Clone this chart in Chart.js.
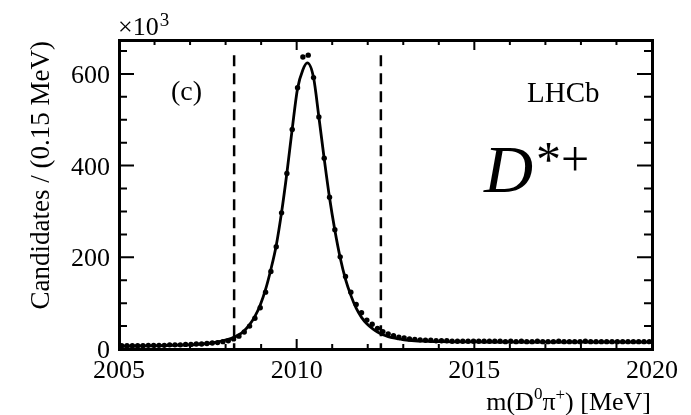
<!DOCTYPE html>
<html>
<head>
<meta charset="utf-8">
<title>m(D0 pi+) - D*+</title>
<script src="https://cdn.jsdelivr.net/npm/chart.js@4.4.1/dist/chart.umd.min.js"></script>
<style>
  html, body { margin: 0; padding: 0; background: #fff; }
  #grafico { display: block; }
</style>
</head>
<body>
<div style="width:691px;height:415px"><canvas id="grafico" width="691" height="415"></canvas></div>
<script>
// grafico estilo ROOT/LHCb: pontos (dados), curva do ajuste e as duas linhas tracejadas dos cortes
// valores em 10^3 candidatos por bin de 0.15 MeV, lidos "no olho" da figura

const binInicio = 2005
const binLargura = 0.15

// 100 bins de 2005 a 2020
const candidatos = [
  7, 7, 7, 7, 7, 8, 8, 8, 8, 9,
  9, 9, 10, 10, 11, 11, 12, 13, 14, 16,
  18, 22, 28, 37, 50, 67, 90, 124, 169, 223,
  297, 383, 479, 570, 637, 641, 592, 506, 416, 331,
  260, 201, 158, 124, 97, 79, 63, 54, 45, 38,
  33, 29, 26, 24, 22, 21, 20, 19, 19, 18,
  18, 18, 17, 17, 17, 17, 17, 17, 17, 17,
  17, 17, 16, 17, 16, 17, 16, 16, 17, 16,
  16, 16, 17, 16, 16, 16, 16, 17, 16, 16,
  16, 16, 16, 16, 16, 16, 16, 16, 16, 16
]

// curva do ajuste
const curvaX = [2005.0, 2005.5, 2006.0, 2006.5, 2007.0, 2007.325, 2007.475, 2007.625, 2007.775, 2007.925,
  2008.075, 2008.225, 2008.375, 2008.525, 2008.675, 2008.825, 2008.975, 2009.125, 2009.275, 2009.425,
  2009.575, 2009.725, 2009.875, 2010.025, 2010.175, 2010.3, 2010.475, 2010.625, 2010.775, 2010.925,
  2011.075, 2011.225, 2011.375, 2011.525, 2011.675, 2011.825, 2011.975, 2012.125, 2012.275, 2012.425,
  2012.575, 2012.725, 2012.875, 2013.025, 2013.325, 2013.625, 2014.0, 2015.0, 2016.0, 2018.0, 2020.0]
const curvaY = [6, 6.5, 7, 8, 9, 11, 12, 13.5, 15.5, 18,
  21, 25, 31, 40, 53, 71, 96, 130, 174, 226,
  298, 384, 480, 568, 609, 624, 592, 506, 415, 330,
  259, 199, 152, 117, 89, 69, 55, 45, 37, 31,
  27, 24, 22, 20, 18, 17, 16, 15.5, 15, 15, 15]

// cortes (linhas tracejadas)
const cortes = [2008.24, 2012.37]
const corteTopo = 641

const ticksX = [2005, 2010, 2015, 2020]
const ticksY = [0, 200, 400, 600]
const menorX = 1     // tick menor a cada 1 MeV
const menorY = 50    // tick menor a cada 50

const FONTE = '"Liberation Serif", "Times New Roman", serif'

function texto(ctx, s, x, y, tam, alinhar, estilo) {
  ctx.save()
  ctx.font = (estilo ? estilo + ' ' : '') + tam + 'px ' + FONTE
  ctx.textAlign = alinhar || 'left'
  ctx.textBaseline = 'alphabetic'
  ctx.fillStyle = '#000'
  ctx.fillText(s, x, y)
  ctx.restore()
}

// desenha texto em pedaços (pra ter os sobrescritos) alinhado à direita em xFim
function textoPedacos(ctx, pedacos, xFim, y) {
  let total = 0
  pedacos.forEach(p => {
    ctx.font = p[1] + 'px ' + FONTE
    total += ctx.measureText(p[0]).width
  })
  let x = xFim - total
  pedacos.forEach(p => {
    ctx.font = p[1] + 'px ' + FONTE
    const w = ctx.measureText(p[0]).width
    texto(ctx, p[0], x, y + p[2], p[1], 'left')
    x += w
  })
}

const molduraRoot = {
  id: 'molduraRoot',
  afterDraw(chart) {
    const ctx = chart.ctx
    const a = chart.chartArea
    const sx = chart.scales.x
    const sy = chart.scales.y
    ctx.save()
    ctx.strokeStyle = '#000'
    ctx.lineCap = 'butt'

    // ticks para dentro nos 4 lados
    ctx.lineWidth = 2
    ctx.beginPath()
    for (let v = sx.min; v <= sx.max + 1e-6; v += menorX) {
      const px = sx.getPixelForValue(v)
      const maior = ticksX.includes(Math.round(v))
      const L = maior ? 10 : 5
      ctx.moveTo(px, a.bottom); ctx.lineTo(px, a.bottom - L)
      ctx.moveTo(px, a.top); ctx.lineTo(px, a.top + L)
    }
    for (let v = 0; v <= sy.max + 1e-6; v += menorY) {
      const py = sy.getPixelForValue(v)
      const maior = ticksY.includes(v)
      const L = maior ? 15 : 8
      ctx.moveTo(a.left, py); ctx.lineTo(a.left + L, py)
      ctx.moveTo(a.right, py); ctx.lineTo(a.right - L, py)
    }
    ctx.stroke()

    // moldura
    ctx.lineWidth = 3
    ctx.strokeRect(a.left + 0.5, a.top + 0.5, a.right - a.left, a.bottom - a.top)

    // rotulos dos ticks
    sy.ticks.forEach(t => {
      texto(ctx, String(t.value), a.left - 9, sy.getPixelForValue(t.value) + 9, 26, 'right')
    })
    sx.ticks.forEach(t => {
      texto(ctx, String(t.value), sx.getPixelForValue(t.value), 378, 26, 'center')
    })

    // x10^3
    texto(ctx, '×10', a.left - 1, 35, 26, 'left')
    ctx.font = '26px ' + FONTE
    const w10 = ctx.measureText('×10').width
    texto(ctx, '3', a.left + w10, 26, 19, 'left')

    // titulo do eixo y (rodado, alinhado no topo)
    ctx.save()
    ctx.translate(49, 41)
    ctx.rotate(-Math.PI / 2)
    texto(ctx, 'Candidates / (0.15 MeV)', 0, 0, 27, 'right')
    ctx.restore()

    // titulo do eixo x
    textoPedacos(ctx, [
      ['m(D', 26, 0], ['0', 17, -11], ['π', 26, 0], ['+', 17, -10], [') [MeV]', 26, 0]
    ], 651, 410)

    // legendas dentro do grafico
    texto(ctx, '(c)', 171, 100, 28, 'left')
    texto(ctx, 'LHCb', 527, 102, 29, 'left')
    texto(ctx, 'D', 484, 192, 68, 'left', 'italic')
    texto(ctx, '*+', 536, 176, 50, 'left')

    ctx.restore()
  }
}

const pontos = candidatos.map((v, i) => ({ x: binInicio + binLargura * (i + 0.5), y: v }))
const curva = curvaX.map((x, i) => ({ x: x, y: curvaY[i] }))

const ctx = document.getElementById('grafico').getContext('2d')
new Chart(ctx, {
  type: 'scatter',
  data: {
    datasets: [
      {
        label: 'ajuste',
        data: curva,
        showLine: true,
        borderColor: '#000',
        borderWidth: 2.8,
        pointRadius: 0,
        cubicInterpolationMode: 'monotone'
      },
      {
        label: 'dados',
        data: pontos,
        showLine: false,
        pointRadius: 2.7,
        pointBorderWidth: 0,
        backgroundColor: '#000'
      },
      ...cortes.map(c => ({
        label: 'corte',
        data: [{ x: c, y: corteTopo }, { x: c, y: 0 }],
        showLine: true,
        borderColor: '#000',
        borderWidth: 2.5,
        borderDash: [11, 7],
        pointRadius: 0
      }))
    ]
  },
  options: {
    responsive: false,
    animation: false,
    devicePixelRatio: 1,
    layout: { padding: { top: 40, right: 39, left: 0, bottom: 0 } },
    plugins: { legend: { display: false }, tooltip: { enabled: false } },
    scales: {
      x: {
        type: 'linear',
        min: 2005,
        max: 2020,
        grid: { display: false },
        border: { display: false },
        ticks: { display: false },
        afterBuildTicks: s => { s.ticks = ticksX.map(v => ({ value: v })) },
        afterFit: s => { s.height = 66 }
      },
      y: {
        type: 'linear',
        min: 0,
        max: 674,
        grid: { display: false },
        border: { display: false },
        ticks: { display: false },
        afterBuildTicks: s => { s.ticks = ticksY.map(v => ({ value: v })) },
        afterFit: s => { s.width = 119 }
      }
    }
  },
  plugins: [molduraRoot]
})
</script>
</body>
</html>
